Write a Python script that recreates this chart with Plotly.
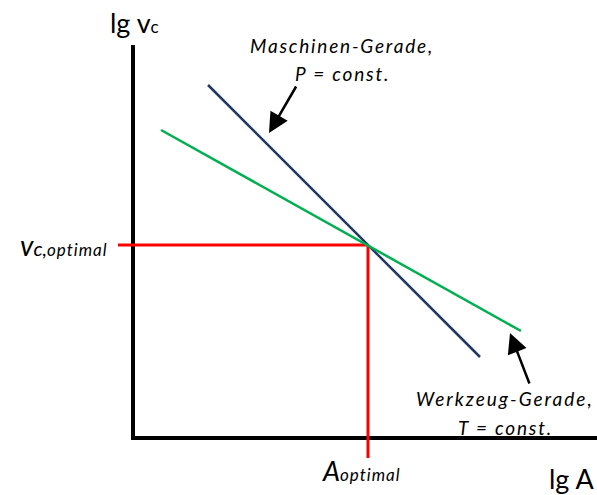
import plotly.graph_objects as go

# Log-log diagram: cutting speed lg vc over chip cross-section lg A
# Machine line (P = const.) and tool line (T = const.)
machine_lgA = [0.75, 3.47]
machine_lgv = [3.53, 0.81]
tool_lgA = [0.28, 3.88]
tool_lgv = [3.08, 1.07]

# Optimum where both lines intersect
opt_lgA = 2.35
opt_lgv = 1.93

# Axis extents
x_axis_end = 4.64
y_axis_top = 3.93

FONT = "Lato"
BLUE = "#1F3864"
GREEN = "#00B050"
RED = "#FF0000"

fig = go.Figure()

# coordinate axes
fig.add_trace(go.Scatter(x=[0, 0], y=[y_axis_top, -0.02], mode="lines",
                         line=dict(color="black", width=4), hoverinfo="skip"))
fig.add_trace(go.Scatter(x=[-0.02, x_axis_end], y=[0, 0], mode="lines",
                         line=dict(color="black", width=4), hoverinfo="skip"))

# optimum guide lines
fig.add_trace(go.Scatter(x=[-0.15, opt_lgA], y=[opt_lgv, opt_lgv], mode="lines",
                         line=dict(color=RED, width=3), hoverinfo="skip"))
fig.add_trace(go.Scatter(x=[opt_lgA, opt_lgA], y=[opt_lgv, -0.2], mode="lines",
                         line=dict(color=RED, width=3), hoverinfo="skip"))

# machine and tool lines
fig.add_trace(go.Scatter(x=machine_lgA, y=machine_lgv, mode="lines",
                         line=dict(color=BLUE, width=2.5), hoverinfo="skip"))
fig.add_trace(go.Scatter(x=tool_lgA, y=tool_lgv, mode="lines",
                         line=dict(color=GREEN, width=2.5), hoverinfo="skip"))


def label(text, x, y, size, italic=False, xanchor="center"):
    fig.add_annotation(x=x, y=y, xref="x", yref="y", text=text, showarrow=False,
                       xanchor=xanchor, yanchor="middle",
                       font=dict(family=FONT, size=size, color="black",
                                 style="italic" if italic else "normal"))


def spaced(text, gap=1.8):
    return f'<span style="letter-spacing:{gap}px">{text}</span>'


label('lg v<span style="font-size:17px">c</span>', 0.01, 4.16, 27)
label("lg A", 4.38, -0.40, 27)
label(spaced("Maschinen-Gerade,"), 2.09, 3.93, 19, italic=True)
label(spaced("P = const."), 2.09, 3.65, 19, italic=True)
label(spaced("Werkzeug-Gerade,", 2.0), 3.72, 0.40, 19, italic=True)
label(spaced("T = const."), 3.72, 0.11, 19, italic=True)
label('v<span style="font-size:20px">c,</span>'
      '<span style="font-size:17px;letter-spacing:1px">optimal</span>',
      -0.23, 1.93, 28, italic=True, xanchor="right")
label('A<span style="font-size:17px;letter-spacing:1px">optimal</span>',
      2.28, -0.32, 27, italic=True)

# pointer arrows
for tip, tail in [((1.36, 3.05), (1.64, 3.53)), ((3.77, 1.05), (3.97, 0.53))]:
    fig.add_annotation(x=tip[0], y=tip[1], ax=tail[0], ay=tail[1],
                       xref="x", yref="y", axref="x", ayref="y",
                       text="", showarrow=True, arrowhead=2, arrowsize=1.6,
                       arrowwidth=2.5, arrowcolor="black", standoff=0)

fig.update_layout(
    width=597, height=495, autosize=False,
    margin=dict(l=0, r=0, t=0, b=0),
    paper_bgcolor="white", plot_bgcolor="white",
    showlegend=False,
    xaxis=dict(range=[-1.33, 4.64], visible=False, fixedrange=True),
    yaxis=dict(range=[-0.57, 4.38], visible=False, fixedrange=True),
)

fig.write_html("out.html")
